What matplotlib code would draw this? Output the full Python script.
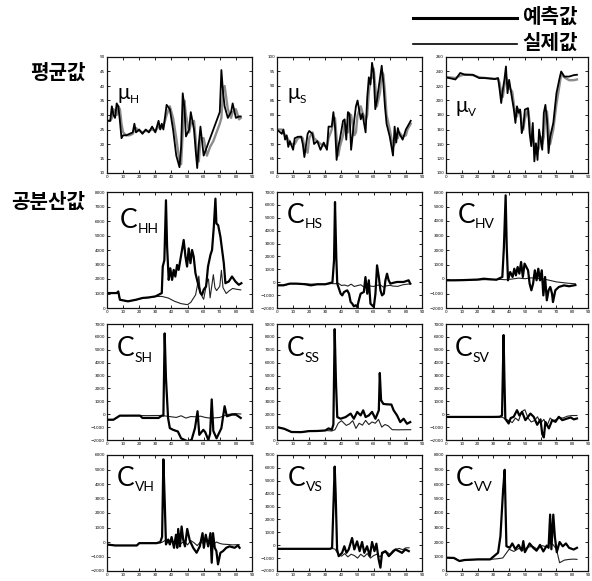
import matplotlib
matplotlib.use('Agg')
import matplotlib.pyplot as plt
from matplotlib.lines import Line2D

# ---------------- data ----------------
x_ticks = [0, 10, 20, 30, 40, 50, 60, 70, 80, 90]

# mean values (평균값)
muH_x = [0,2,3,4,5,6,7,8,9,10,12,14,16,17,18,20,22,24,26,28,30,32,33,34,35,37,39,41,43,45,46,47,48,49,51,52,54,55,56,57,58,60,62,64,66,68,70,71,72,73,75,77,78,80,82,83]
muH_pred = [28,28,33,30,29,34,33,28,22,23,23,23.5,24,27,24,25,23.5,25,24,26,24,28,25,27,25,33.5,32,25,16,12,19,37.5,33,22.6,25,31,25,18,11.7,20,26,16,19,22,25,28,31,45.5,38,33,29,31,34,29,29.5,29.5]
muH_act = [28,28,29,32,31,30,33,32,27,24,23,23,23.5,25,25.5,24.5,24,24.5,24.5,25,24.5,26,26,25.5,26,30,33,29,22,14,13,24,35,30,24,27,28,22,15,14,22,22,16,19,21,24,27,29,38,40,32,29,31,32,28.5,29]

muS_x = [0,3,4,5,6,7,8,10,11,13,15,16,17,19,20,22,23,25,27,29,31,32,34,35,36,37,38,39,41,42,43,44,45,46,48,49,50,52,53,55,56,57,58,59,60,61,62,64,65,66,67,68,70,72,73,74,75,76,78,80,81,83]
muS_pred = [75,73.5,75,71.5,73,69,71,68,72,72.5,72.5,70,65.5,73.5,74.5,73.5,70,71,68,70.5,68,76,76,81,76,64.5,69,71.5,78,78.5,71.5,81,80.5,68,78.5,83,85,78.5,80.5,74,86,93,90.5,98,94.5,82,85,93,97,91,83,77,72.5,66,76,70.5,75.5,73.5,71.5,75,76,78]
muS_act = [75,75,74,73,72.5,71.5,70,70,70,72,72.5,72,69,67,72,74,72,71,70,69.5,69,72,75,78,79,72,66,69,73,77,76,74,78,80,73,74,80,83,81,78,80,88,92,93,96,90,83,88,95,94,88,80,75,69,70,73,72,74,72.5,73,75,77]

muV_x = [0,2,6,9,12,17,21,25,31,33,34,35,36,37,38,39,40,42,43,44,45,46,47,48,49,50,52,53,54,55,56,57,58,59,60,61,62,63,64,65,66,68,70,72,73,75,78,81,83]
muV_pred = [232,231,229,238,235.5,235.5,231,231,229.5,231,215,196.5,215,228.5,247,210,228.5,201,187.5,169,192,183,187.5,155,164,187.5,189.5,155,137,169,116,141,118,160,146,132,183,194,173.5,127.5,150,169,210,231,240,233,233,235,235.5]
muV_act = [232,232,231,234,236,235,232,231,230,230,224,210,205,220,232,225,218,212,195,180,178,188,185,170,160,175,188,170,148,150,135,128,130,135,150,140,150,180,185,160,140,160,195,222,236,232,228,228,229]

# covariance values (공분산값)
cHH_xp = [0,6,7,8,13,18,22,26,30,32,34,34.6,35.6,36.6,37.3,38.3,39.3,40.4,41.4,42.4,43.5,44.5,45.5,47.6,48.7,49.7,50.7,51.8,52.8,53.8,54.9,56.9,58,59,60,61.5,62.7,64.2,65.2,66.3,67.3,67.9,69,70.4,72.5,73.5,75.6,77.6,79.7,81.8,83.4]
cHH_pred = [1030,1030,1140,570,460,570,690,730,800,910,1030,2860,3300,7430,4230,1940,2740,1940,2630,2170,2970,2630,3310,4690,3540,2860,4110,3090,4000,3540,2400,1490,1030,910,1260,1490,2860,3660,4000,5600,7540,5830,5710,4910,3090,1710,1830,2170,1830,1600,1710]
cHH_xa = [0,6,7,8,13,18,22,26,30,34,38,42,46,50,52,55,56,57,58,60,62,63,64,66,67,68,70,71,72,74,76,78,80,83]
cHH_act = [1030,1030,1100,570,460,560,680,720,790,800,690,460,300,230,390,910,1500,2200,1000,600,1800,2000,700,2300,1400,1200,1500,2600,1400,1000,1200,1350,1300,1250]

cHS_xp = [0,4,8,12,17,21,25,30,34.4,35.4,36,36.8,37.4,39.5,40.5,41.6,43.6,44.7,45.7,46.7,47.7,48.8,49.8,50.8,51.9,53.9,54.9,56,57,58,59,60.1,61.1,62.1,63.2,64.2,65.2,66.3,67.3,68.3,69.3,70.4,72,74.5,78.6,81.7,82.7]
cHS_pred = [-240,-240,-110,-110,-150,-240,-160,-160,-10,1700,6220,1960,-110,-890,-1020,-760,-630,-890,-1530,-1660,-1870,-1790,-1920,-1400,-890,-760,400,-890,150,-1660,-1790,-1920,-890,1310,400,-630,-1020,-890,150,660,150,-110,-50,20,20,150,-110]
cHS_xa = [0,4,8,12,17,21,25,30,34,36,38,40,42,44,46,48,50,52,54,56,58,60,62,64,66,68,70,72,75,78,81,83]
cHS_act = [-240,-240,-110,-110,-120,-150,-150,-150,-100,-120,-80,-250,-220,-300,-150,-330,-260,-200,-380,-120,-300,-330,-250,-200,-380,-280,-240,-300,-320,-200,-150,-120]

cHV_xp = [0,5,10,15,20,24,28,32,35.7,36.7,37.8,38.5,39.3,40.7,42.2,43.3,44.3,45.4,46.5,47.6,48.7,49.8,50.9,52,53,54.1,55.2,56.3,57.4,58.5,59.6,60.7,61.7,62.8,63.9,65,66.1,67.2,67.8,69.3,71.5,74.8,78,82]
cHV_pred = [-90,-90,-80,-60,-40,20,-20,-50,140,2200,5770,2200,-90,480,140,710,250,830,370,1170,140,1060,830,600,-320,-780,-320,600,-90,710,-90,600,-1130,140,-1470,-780,-550,-1010,-1590,-780,-550,-440,-500,-420]
cHV_xa = [0,10,20,30,35,38,42,46,50,54,58,62,66,70,74,78,82]
cHV_act = [-90,-80,-50,-40,-30,-50,0,60,20,80,40,0,-100,-200,-250,-300,-330]

cSH_xp = [0,4,8,12,16,20.5,22,28,32,34,35,35.8,36.6,37.9,39,41,44,46,48.3,50,52.5,54.6,56.2,57.3,59.8,61,62.9,64,65,66,68,71,73,74.4,77.5,80,83]
cSH_pred = [-425,-425,-110,-110,-110,-110,-290,-290,-290,-110,-110,6270,2800,-290,-1080,-1210,-1340,-1870,-2000,-2100,-1990,-1080,230,-1600,-1210,-1400,-2000,-1500,1150,-1300,-1870,-1080,620,-160,-30,-30,-290]
cSH_xa = [0,4,8,12,16,20,25,30,34,37,40,43,46,49,52,55,58,61,64,67,70,73,76,79,83]
cSH_act = [-425,-425,-110,-110,-100,-100,-110,-100,-100,-150,-200,-250,-120,-300,-180,-200,-150,-250,-300,-280,-250,-100,0,50,20]

cSS_xp = [0,4.5,9,15,20,25,30,32,34,35,35.8,36.6,37.4,39.5,42.6,45.7,47.7,49.8,51.9,53.5,55,57,59,61.1,63.2,63.8,64.6,66,68,71,72.4,74.5,76.5,78.6,80.7,82.7]
cSS_pred = [1000,870,620,610,690,700,740,900,800,1200,8600,4500,1780,1650,1780,2050,1650,2180,1910,2300,1780,1910,2180,1650,2300,5200,3090,2800,2770,2750,2300,1910,1390,1650,1260,1390]
cSS_xa = [0,4.5,9,15,20,25,30,34,36,38,40,43,45,47,49,51,53,55,57,59,61,63,65,67,69,71.5,75,80,83]
cSS_act = [1000,870,620,610,690,700,740,700,800,1300,1500,1130,1250,1500,900,1300,1150,1520,1200,1400,1300,1600,1000,1200,1100,800,790,800,800]

cSV_xp = [0,5,10,15,20,25,30,34,35.5,36.5,37,37.6,39.7,41,42.9,45,46.5,48.2,50.3,52,53.5,55.6,57.8,59.9,61,62,63,65.2,67.3,69.4,71.5,73.7,76.9,79,81,83]
cSV_pred = [-210,-210,-210,-210,-210,-210,-210,-200,-100,6140,2900,-360,-720,-300,-200,310,-100,180,-460,-200,50,-200,-820,-400,-1540,-1800,-600,-1100,-460,-590,-200,-460,-330,-250,-400,-330]
cSV_xa = [0,10,20,30,34,36,38,40,42,44,46,48,50,52,54,56,58,60,62,64,66,68,70,72,74,77,80,83]
cSV_act = [-210,-210,-210,-210,-200,-250,-400,-500,-650,-300,-500,200,350,-300,-600,-500,-200,-700,-400,-900,-300,-500,-400,-250,-300,-150,-100,-100]

cVH_xp = [0,5,10,15,18.5,20,25,31,32,33,34.2,35,35.8,36.6,38,39,40.1,41.6,42.8,43.6,44.2,45.3,46.3,47.3,48.4,49.8,51.4,53.5,55.6,57.6,59.3,60.1,61.3,62.8,64.2,65,65.8,66.9,67.9,68.9,70.4,72,74,76.1,79.2,81.3,82.3]
cVH_pred = [-170,-240,-240,-240,-240,-80,-80,-80,-30,-30,360,5700,2900,-170,170,-170,345,-400,500,-400,900,-300,1070,170,-300,900,90,-400,-740,-300,610,-400,500,-300,610,-1430,610,-400,-630,-1540,-740,-630,-400,-300,-400,-240,-400]
cVH_xa = [0,5,10,15,18.5,20,25,31,34,36,38,40,42,44,46,48,50,52,54,56,58,60,62,64,66,68,70,72,75,78,82]
cVH_act = [-170,-240,-240,-240,-240,-80,-80,-80,-30,100,-50,60,0,150,-100,50,-200,100,-50,-250,0,-100,200,-50,-150,0,-100,-150,-170,-200,-180]

cVS_xp = [0,5,10,15,20,25,30,33,34.2,35.8,36.4,37.3,38.3,40.4,41.8,43.1,44.5,46.6,48,49.7,51.3,52.8,54.2,55.9,57.6,59,60.5,61.7,63.1,64.2,65.2,67.3,69.4,71.4,73.5,75.6,77.6,79.7,81.8]
cVS_pred = [-280,-280,-280,-280,-280,-280,-280,-280,-200,6100,4040,-330,-850,-590,-80,-590,-330,560,-330,300,-460,250,-590,-80,-850,250,-460,120,-1100,-1740,-590,-460,-850,-590,-330,-460,-590,-330,-460]
cVS_xa = [0,10,20,30,34,36,38,40,42,44,46,48,50,52,54,56,58,60,62,64,66,68,70,72,74,76,78,80,82]
cVS_act = [-280,-280,-280,-280,-250,-300,-700,-850,-650,-900,-700,-800,-1000,-700,-900,-650,-1000,-800,-700,-900,-600,-500,-700,-400,-300,-250,-350,-200,-200]

cVV_xp = [0,5,8.5,12,20,28,33,34.5,36.2,37.2,38.3,40.4,42,44,46,48,49,50,52,53,55.3,57.4,59.6,61.7,63.8,65,66,66.8,68,69,70.2,72,74,76,78,80.9,83]
cVV_pred = [920,900,690,760,800,800,1260,2400,5600,6980,1710,1600,1900,1500,1800,1400,2060,1300,1700,1900,1600,1400,1800,1350,1750,1600,3890,1500,3890,2350,1300,2000,1700,1900,1600,1480,1600]
cVV_xa = [0,5,8.5,12,20,28,33,36,38,40,43,46,49,52,55,58,61,64,66,68,70,72,75,78,81,83]
cVV_act = [920,900,690,760,800,800,850,900,1200,1500,1350,1550,1450,1650,1700,1500,1750,1650,2000,1800,1500,570,750,800,820,800]

# y tick values for each panel
muH_yticks = [10, 15, 20, 25, 30, 35, 40, 45, 50]
muS_yticks = [60, 65, 70, 75, 80, 85, 90, 95, 100]
muV_yticks = [100, 120, 140, 160, 180, 200, 220, 240, 260]
yt_0_8000 = [0, 1000, 2000, 3000, 4000, 5000, 6000, 7000, 8000]
yt_0_9000 = [0, 1000, 2000, 3000, 4000, 5000, 6000, 7000, 8000, 9000]
yt_m2_7000 = [-2000, -1000, 0, 1000, 2000, 3000, 4000, 5000, 6000, 7000]
yt_m2_6000 = [-2000, -1000, 0, 1000, 2000, 3000, 4000, 5000, 6000]

# panel labels
mu_main = 'μ'
c_main = 'C'
subs = [['H', 'S', 'V'], ['HH', 'HS', 'HV'], ['SH', 'SS', 'SV'], ['VH', 'VS', 'VV']]

row_titles = ['평균값', '공분산값']
legend_labels = ['예측값', '실제값']

# ---------------- figure ----------------
W, H = 592, 581
fig = plt.figure(figsize=(W / 100, H / 100), dpi=100)
fig.patch.set_facecolor('white')

KR = ['Noto Sans CJK KR', 'DejaVu Sans']
LBL = ['Liberation Sans Narrow', 'Lato', 'DejaVu Sans']

col_left = [107, 277, 446]
col_w = [145, 145, 142]
row_top = [57, 192, 324, 455]
row_h = 116

panels = [
    [(muH_x, muH_pred, muH_x, muH_act, muH_yticks),
     (muS_x, muS_pred, muS_x, muS_act, muS_yticks),
     (muV_x, muV_pred, muV_x, muV_act, muV_yticks)],
    [(cHH_xp, cHH_pred, cHH_xa, cHH_act, yt_0_8000),
     (cHS_xp, cHS_pred, cHS_xa, cHS_act, yt_m2_7000),
     (cHV_xp, cHV_pred, cHV_xa, cHV_act, yt_m2_6000)],
    [(cSH_xp, cSH_pred, cSH_xa, cSH_act, yt_m2_7000),
     (cSS_xp, cSS_pred, cSS_xa, cSS_act, yt_0_9000),
     (cSV_xp, cSV_pred, cSV_xa, cSV_act, yt_m2_7000)],
    [(cVH_xp, cVH_pred, cVH_xa, cVH_act, yt_m2_6000),
     (cVS_xp, cVS_pred, cVS_xa, cVS_act, yt_m2_7000),
     (cVV_xp, cVV_pred, cVV_xa, cVV_act, yt_0_8000)],
]

label_pos = [
    [(0.07, 0.64), (0.07, 0.64), (0.07, 0.53)],
    [(0.09, 0.69), (0.07, 0.73), (0.08, 0.73)],
    [(0.07, 0.72), (0.07, 0.72), (0.065, 0.72)],
    [(0.07, 0.73), (0.075, 0.73), (0.07, 0.73)],
]


def add_label(ax, main, sub, pos, size, subsize):
    t = ax.text(pos[0], pos[1], main, transform=ax.transAxes, fontsize=size,
                family=LBL, va='baseline', ha='left', color='black')
    ax.annotate(sub, xy=(1, 0), xycoords=t, xytext=(0.0, -1.5),
                textcoords='offset points', fontsize=subsize, family=LBL,
                va='bottom', ha='left', color='black')


for r in range(4):
    for c in range(3):
        xp, yp, xa, ya, yt = panels[r][c]
        L = col_left[c]
        T = row_top[r]
        ax = fig.add_axes([L / W, 1 - (T + row_h) / H, col_w[c] / W, row_h / H])
        if r == 0:
            ax.plot(xa, ya, color='#8c8c8c', lw=1.7)
            ax.plot(xp, yp, color='black', lw=1.3)
        else:
            ax.plot(xa, ya, color='#222222', lw=0.8)
            ax.plot(xp, yp, color='black', lw=1.6)
        ax.set_xlim(0, 90)
        ax.set_ylim(yt[0], yt[-1])
        ax.set_xticks(x_ticks)
        ax.set_yticks(yt)
        ax.tick_params(direction='in', length=2, width=0.6, labelsize=3,
                       top=True, right=True, pad=1.5)
        for s in ax.spines.values():
            s.set_linewidth(0.9)
            s.set_color('#111111')
        if r == 0:
            add_label(ax, mu_main, subs[r][c], label_pos[r][c], 15, 8.5)
        else:
            add_label(ax, c_main, subs[r][c], label_pos[r][c], 19, 10)

# row titles
fig.text(58 / W, 1 - 72 / H, row_titles[0], family=KR, fontsize=14.5,
         fontweight='bold', ha='center', va='center')
fig.text(48 / W, 1 - 201 / H, row_titles[1], family=KR, fontsize=14.5,
         fontweight='bold', ha='center', va='center')

# legend
fig.add_artist(Line2D([413 / W, 517 / W], [1 - 18 / H, 1 - 18 / H],
                      transform=fig.transFigure, color='black', lw=2.2))
fig.add_artist(Line2D([413 / W, 517 / W], [1 - 44 / H, 1 - 44 / H],
                      transform=fig.transFigure, color='black', lw=1.2))
fig.text(522 / W, 1 - 16 / H, legend_labels[0], family=KR, fontsize=14.5,
         fontweight='bold', ha='left', va='center')
fig.text(522 / W, 1 - 42 / H, legend_labels[1], family=KR, fontsize=14.5,
         fontweight='bold', ha='left', va='center')

fig.savefig('out.png', dpi=100, facecolor='white')
